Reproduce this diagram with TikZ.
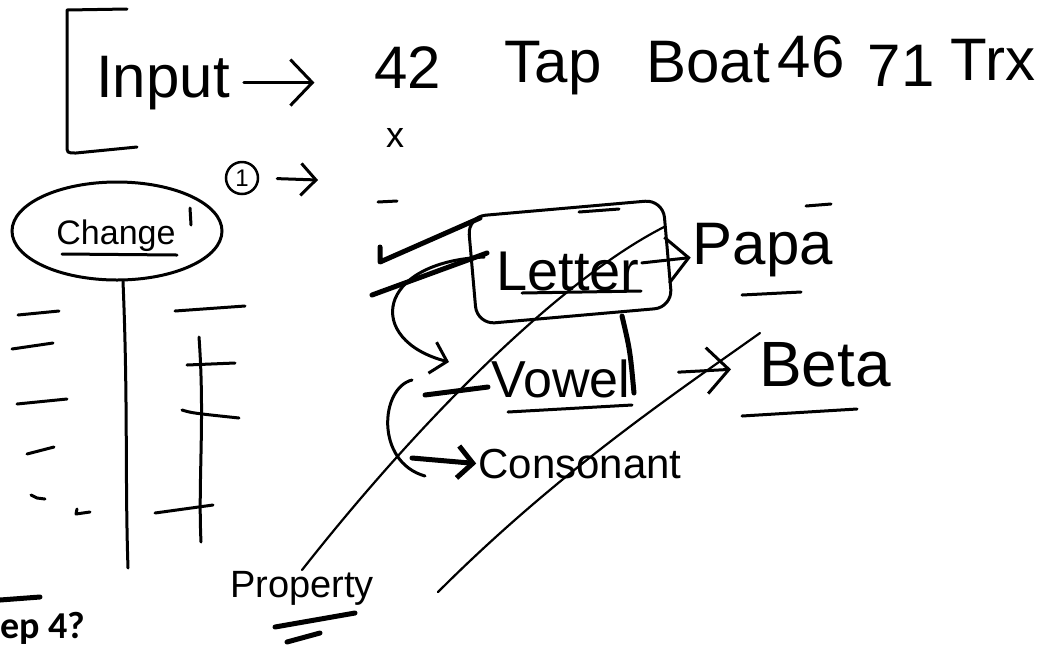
\documentclass[tikz,border=0pt]{standalone}
\usepackage{fontspec}
\setmainfont{Liberation Sans}
\newfontfamily\pasofont{Carlito}
\usepackage{tikz}
\usetikzlibrary{shapes.geometric}
\usetikzlibrary{arrows.meta}
\pgfdeclarelayer{trazos}
\pgfdeclarelayer{textos}
\pgfsetlayers{trazos,textos,main}
\newcommand{\tam}[1]{\fontsize{#1}{#1}\selectfont}
\tikzstyle{none}=[inner sep=0pt]
\tikzstyle{mano}=[inner sep=2pt,anchor=base]
\tikzstyle{trazo}=[draw=black,line width=3pt,line cap=round,line join=round]
\tikzstyle{grueso}=[draw=black,line width=5pt,line cap=round,line join=round]
\tikzstyle{fino}=[draw=black,line width=2.2pt,line cap=round]
\tikzstyle{flecha}=[-{Straight Barb[length=22pt,width=46pt]}]
\tikzstyle{flechachica}=[-{Straight Barb[length=15pt,width=32pt]}]
\tikzstyle{globo}=[ellipse,draw=black,line width=3pt,minimum width=210pt,minimum height=98pt]
\tikzstyle{caja}=[draw=black,line width=3pt,rounded corners=18pt,minimum width=196pt,minimum height=108pt,rotate=5]
\tikzstyle{circulo}=[circle,draw=black,line width=2.5pt,minimum size=32pt,inner sep=0pt]

\begin{document}
\begin{tikzpicture}[x=1pt,y=-1pt]
		\useasboundingbox (0,0) rectangle (1048,649);
		\begin{pgfonlayer}{textos}
			\node [style=mano,font=\tam{60}] (input) at (163,97) {Input};
			\node [style=mano,font=\tam{60}] (n42) at (408,88) {42};
			\node [style=mano,font=\tam{60}] (tap) at (553,82) {Tap};
			\node [style=mano,font=\tam{60}] (boat) at (708,82) {Boat};
			\node [style=mano,font=\tam{60}] (n46) at (811,77) {46};
			\node [style=mano,font=\tam{60}] (n71) at (901,86) {71};
			\node [style=mano,font=\tam{60}] (trx) at (993,80) {Trx};
			\node [style=mano,font=\tam{36}] (cruz) at (395,147) {x};
			\node [style=circulo,font=\tam{24}] (uno) at (242,178) {1};
			\coordinate (unotip) at (318,180);
			\node [style=globo] (changeoval) at (117,231) {};
			\node [style=mano,font=\tam{34}] (change) at (116,244) {Change};
			\node [style=caja] (letterbox) at (570,262) {};
			\node [style=mano,font=\tam{56}] (letter) at (568,290) {Letter};
			\node [style=mano,font=\tam{60}] (papa) at (763,264) {Papa};
			\node [style=mano,font=\tam{52}] (vowel) at (561,397) {Vowel};
			\coordinate (vtip) at (449,362);
			\node [style=mano,font=\tam{64}] (beta) at (825,386) {Beta};
			\coordinate (cola) at (412,458);
			\node [style=mano,font=\tam{42}] (consonant) at (580,478) {Consonant};
			\node [style=mano,font=\tam{38}] (property) at (302,597) {Property};
			\node [style=none,anchor=base west,font=\pasofont\bfseries\tam{38}] (paso) at (0,638) {ep 4?};
		\end{pgfonlayer}
		\begin{pgfonlayer}{trazos}
			% corchete y flechas de arriba
			\draw [style=trazo] (127,9) -- (67,10) -- (67,145) .. controls (67,153) .. (76,153) -- (137,147);
			\draw [style=trazo,style=flecha,shorten <=12pt,shorten >=58pt] (input.east) -- (input.east -| n42.west);
			\draw [style=trazo,style=flechachica,shorten <=18pt] (uno.east) -- (unotip);
			% change
			\draw [style=trazo] (62,254) -- (177,255);
			\draw [style=trazo] (190,208) -- (191,225);
			\draw [style=trazo] ([xshift=6pt]changeoval.south) .. controls (128,400) and (125,480) .. (128,568);
			\draw [style=trazo] (18,315) -- (59,311);
			\draw [style=trazo] (12,349) -- (53,343);
			\draw [style=trazo] (17,404) -- (67,399);
			\draw [style=trazo] (27,454) -- (54,447);
			\draw [style=trazo] (31,495) -- (37,498) -- (45,499);
			\draw [style=trazo] (77,509) -- (76,514) -- (90,512);
			\draw [style=trazo] (175,311) -- (245,306);
			\draw [style=trazo] (199,337) .. controls (205,420) and (198,480) .. (201,542);
			\draw [style=trazo] (187,365) -- (235,363);
			\draw [style=trazo] (182,410) .. controls (192,413) .. (239,418);
			\draw [style=trazo] (155,513) -- (213,505);
			\draw [style=grueso] (0,600) -- (40,597);
			% letter, vowel, consonant
			\draw [style=trazo] (378,202) -- (397,201);
			\draw [style=trazo] (579,212) -- (619,209);
			\draw [style=trazo] (806,206) -- (831,204);
			\draw [style=grueso] (380,247) -- (380,262) -- (480,218);
			\draw [style=grueso] (372,295) -- (487,253);
			\draw [style=trazo] (522,293) -- (641,291);
			\draw [style=trazo] (742,295) -- (801,292);
			\draw [style=trazo,style=flecha] (letter) -- (papa);
			\draw [style=trazo,style=flechachica] ([xshift=-10pt,yshift=14pt]letter.west) .. controls (375,262) and (365,340) .. (vtip);
			\draw [style=grueso] (622,316) .. controls (630,350) .. (634,393);
			\draw [style=grueso] (425,395) -- (488,387);
			\draw [style=trazo] (508,412) -- (632,405);
			\draw [style=trazo,style=flecha,shorten <=46pt,shorten >=26pt] (vowel) -- (beta);
			\draw [style=trazo] (742,416) -- (857,409);
			\draw [style=trazo] (412,380) .. controls (380,388) and (375,462) .. (425,476);
			\draw [style=grueso,style=flechachica] (cola) -- (consonant.west);
			% property
			\draw [style=grueso] (275,627) -- (355,613);
			\draw [style=grueso] (287,642) -- (320,633);
			\draw [style=fino] (302,570) .. controls (420,420) and (560,280) .. (664,227);
			\draw [style=fino] (438,592) .. controls (560,470) and (680,390) .. (760,333);
		\end{pgfonlayer}
\end{tikzpicture}
\end{document}
